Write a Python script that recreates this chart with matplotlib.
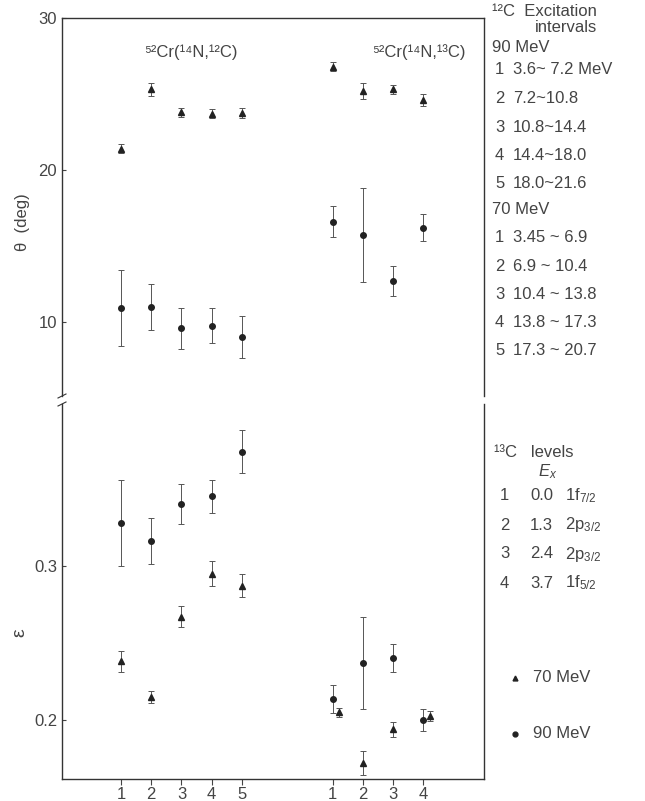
import numpy as np
import matplotlib
matplotlib.use("Agg")
import matplotlib.pyplot as plt

plt.rcParams['font.family'] = ['Liberation Sans', 'DejaVu Sans']
plt.rcParams['mathtext.fontset'] = 'custom'
plt.rcParams['mathtext.rm'] = 'Liberation Sans'
plt.rcParams['mathtext.it'] = 'Liberation Sans:italic'

# ---- data ----
labels_12c = ['1', '2', '3', '4', '5']
labels_13c = ['1', '2', '3', '4']

# theta (deg)
theta_70_12c = [21.4, 25.3, 23.8, 23.7, 23.75]
theta_70_12c_err = [0.3, 0.4, 0.3, 0.3, 0.3]
theta_90_12c = [10.9, 11.0, 9.6, 9.75, 9.0]
theta_90_12c_err = [2.5, 1.5, 1.35, 1.15, 1.4]

theta_70_13c = [26.8, 25.2, 25.3, 24.6]
theta_70_13c_err = [0.3, 0.5, 0.3, 0.4]
theta_90_13c = [16.6, 15.7, 12.7, 16.2]
theta_90_13c_err = [1.0, 3.1, 1.0, 0.9]

# epsilon
eps_70_12c = [0.238, 0.215, 0.267, 0.295, 0.287]
eps_70_12c_err = [0.007, 0.004, 0.007, 0.008, 0.0075]
eps_90_12c = [0.328, 0.316, 0.340, 0.345, 0.374]
eps_90_12c_err = [0.028, 0.015, 0.013, 0.011, 0.014]

eps_70_13c = [0.205, 0.172, 0.194, 0.2026]
eps_70_13c_err = [0.003, 0.008, 0.005, 0.003]
eps_90_13c = [0.2136, 0.237, 0.240, 0.200]
eps_90_13c_err = [0.009, 0.030, 0.009, 0.007]

intervals_90 = ['3.6~ 7.2 MeV', '7.2~10.8', '10.8~14.4', '14.4~18.0', '18.0~21.6']
intervals_70 = ['3.45 ~ 6.9', '6.9 ~ 10.4', '10.4 ~ 13.8', '13.8 ~ 17.3', '17.3 ~ 20.7']
levels_ex = ['0.0', '1.3', '2.4', '3.7']
levels_orb = [r'1f$_{7/2}$', r'2p$_{3/2}$', r'2p$_{3/2}$', r'1f$_{5/2}$']

# ---- layout ----
pos12 = np.arange(1, len(labels_12c) + 1)
pos13 = np.arange(1, len(labels_13c) + 1) + 7
dodge13 = np.array([0.22, 0, 0, 0.22])

W, H = 645, 801
fig = plt.figure(figsize=(6.45, 8.01), dpi=100)
L, R = 62 / W, 484 / W
ax_t = fig.add_axes([L, 1 - 396 / H, R - L, (396 - 18) / H])
ax_b = fig.add_axes([L, 1 - 779 / H, R - L, (779 - 404) / H])

ink = '#222222'
txt = '#444444'
ekw = dict(ecolor='#555555', elinewidth=0.7, capsize=2, capthick=0.7, linestyle='none')

ax_t.errorbar(pos12, theta_70_12c, yerr=theta_70_12c_err, marker='^', ms=4.5, color=ink, **ekw)
ax_t.errorbar(pos12, theta_90_12c, yerr=theta_90_12c_err, marker='o', ms=4, color=ink, **ekw)
ax_t.errorbar(pos13, theta_70_13c, yerr=theta_70_13c_err, marker='^', ms=4.5, color=ink, **ekw)
ax_t.errorbar(pos13, theta_90_13c, yerr=theta_90_13c_err, marker='o', ms=4, color=ink, **ekw)

ax_b.errorbar(pos12, eps_70_12c, yerr=eps_70_12c_err, marker='^', ms=4.5, color=ink, **ekw)
ax_b.errorbar(pos12, eps_90_12c, yerr=eps_90_12c_err, marker='o', ms=4, color=ink, **ekw)
ax_b.errorbar(pos13 + dodge13, eps_70_13c, yerr=eps_70_13c_err, marker='^', ms=4.5, color=ink, **ekw)
ax_b.errorbar(pos13, eps_90_13c, yerr=eps_90_13c_err, marker='o', ms=4, color=ink, **ekw)

for ax in (ax_t, ax_b):
    ax.set_xlim(-0.95, 13.0)
    for s in ax.spines.values():
        s.set_color('#333333')
        s.set_linewidth(1.0)
    ax.tick_params(direction='in', length=3, width=0.8, colors='#444444',
                   labelcolor=txt, labelsize=12)

ax_t.set_ylim(5.13, 30)
ax_t.set_yticks([10, 20, 30])
ax_t.spines['bottom'].set_visible(False)
ax_t.set_xticks([])

ax_b.set_ylim(0.1617, 0.405)
ax_b.set_yticks([0.2, 0.3])
ax_b.set_yticklabels(['0.2', '0.3'])
ax_b.spines['top'].set_visible(False)
ax_b.set_xticks(np.concatenate([pos12, pos13]))
ax_b.set_xticklabels(labels_12c + labels_13c)
ax_b.tick_params(axis='x', direction='out', length=4, pad=2)

# break marks on the left spine
for yy in (396, 404):
    fig.add_artist(plt.Line2D([(62 - 4) / W, (62 + 4) / W],
                              [1 - (yy + 2) / H, 1 - (yy - 2) / H],
                              color='#333333', lw=0.8))

ax_t.text(0.306, 0.91, '⁵²Cr(¹⁴N,¹²C)', transform=ax_t.transAxes, ha='center',
          va='center', fontsize=12, color=txt)
ax_t.text(0.846, 0.91, '⁵²Cr(¹⁴N,¹³C)', transform=ax_t.transAxes, ha='center',
          va='center', fontsize=12, color=txt)

fig.text(22 / W, 1 - 222 / H, 'θ  (deg)', rotation=90, ha='center', va='center',
         fontsize=12, color=txt)
fig.text(20 / W, 1 - 633 / H, 'ε', rotation=90, ha='center', va='center',
         fontsize=14, color=txt)


def ft(x, y, s, **kw):
    kw.setdefault('fontsize', 12)
    kw.setdefault('color', txt)
    fig.text(x / W, 1 - y / H, s, va='center', **kw)


# right side key
ft(492, 12, '¹²C  Excitation')
ft(535, 28, 'intervals')
ft(492, 47, '90 MeV')
for i, s in enumerate(intervals_90):
    y = 70 + i * 28.5
    ft(495, y, labels_12c[i])
    ft(513, y, s)
ft(492, 209, '70 MeV')
for i, s in enumerate(intervals_70):
    y = 238 + i * 28.2
    ft(495, y, labels_12c[i])
    ft(513, y, s)

ft(494, 452, '¹³C   levels')
ft(538, 472, r'$E_x$')
for i in range(len(levels_ex)):
    y = 496 + i * 29
    ft(500, y, labels_13c[i])
    ft(530, y, levels_ex[i])
    ft(565, y, levels_orb[i])

fig.add_artist(plt.Line2D([515 / W], [1 - 678 / H], marker='^', ms=3.5, color=ink))
ft(533, 678, '70 MeV')
fig.add_artist(plt.Line2D([515 / W], [1 - 734 / H], marker='o', ms=3.5, color=ink))
ft(533, 734, '90 MeV')

fig.savefig('out.png', dpi=100, facecolor='white')
